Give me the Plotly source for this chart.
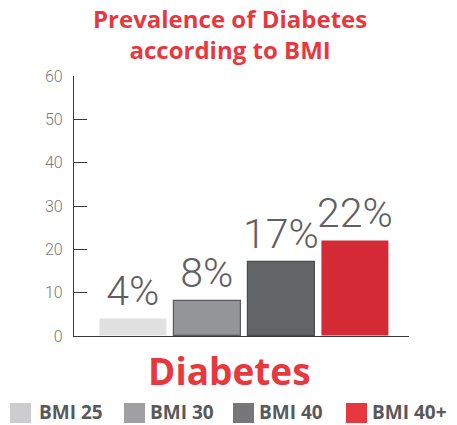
import plotly.graph_objects as go

categories = ["BMI 25", "BMI 30", "BMI 40", "BMI 40+"]
values = [4, 8, 17, 22]
bar_colors = ["#e1e1e2", "#939598", "#636466", "#d42a36"]
border_colors = ["rgba(0,0,0,0)", "#58595b", "#4a4b4d", "rgba(0,0,0,0)"]
legend_colors = ["#cdcdcf", "#a09fa1", "#77777a", "#e8383f"]
y_ticks = [0, 10, 20, 30, 40, 50, 60]
title_text = "Prevalence of Diabetes<br>according to BMI"
group_label = "Diabetes"

W, H = 457, 425
L, R, T, B = 74, 48, 76, 89
pw, ph = W - L - R, H - T - B
xr = [-0.80, 3.72]

fig = go.Figure()
fig.add_trace(go.Bar(
    x=list(range(len(categories))), y=values, width=0.905,
    marker=dict(color=bar_colors, line=dict(color=border_colors, width=1.2)),
    text=[f"{v}%" for v in values], textposition="outside",
    textfont=dict(family="Roboto", size=41, color="#5f6062", weight=300),
    constraintext="none", cliponaxis=False, showlegend=False,
))

def px2paper_x(px):
    return (px - L) / pw

def px2paper_y(py):
    return (H - B - py) / ph

shapes = []
annotations = []
sq_left = [10, 124, 233, 346]
txt_left = [40, 151, 260, 373]
for i, name in enumerate(categories):
    shapes.append(dict(type="rect", xref="paper", yref="paper",
                       x0=px2paper_x(sq_left[i]), x1=px2paper_x(sq_left[i] + 21),
                       y0=px2paper_y(423), y1=px2paper_y(403),
                       fillcolor=legend_colors[i], line=dict(width=0)))
    annotations.append(dict(text=f"<b>{name}</b>", xref="paper", yref="paper",
                            x=px2paper_x(txt_left[i] - 2), y=px2paper_y(411.5),
                            xanchor="left", yanchor="middle", showarrow=False, borderpad=0,
                            font=dict(family="Open Sans", size=19, color="#58595b")))

annotations.append(dict(text=f"<b>{group_label}</b>", xref="paper", yref="paper",
                        x=px2paper_x(229), y=px2paper_y(370), xanchor="center", yanchor="middle",
                        showarrow=False,
                        font=dict(family="Open Sans", size=37, color="#e8383f")))

annotations.append(dict(text=f"<b>{title_text}</b>", xref="paper", yref="paper",
                        x=px2paper_x(230), y=px2paper_y(34), xanchor="center", yanchor="middle",
                        showarrow=False,
                        font=dict(family="Open Sans", size=24, color="#e8383f")))

fig.update_layout(
    width=W, height=H, margin=dict(l=L, r=R, t=T, b=B),
    paper_bgcolor="white", plot_bgcolor="white",
    xaxis=dict(range=xr, showgrid=False, zeroline=False, showline=True,
               linecolor="#3a3a3a", linewidth=1.3, tickvals=[xr[1]], ticktext=[""],
               ticks="inside", ticklen=6, tickcolor="#3a3a3a", tickwidth=1.3),
    yaxis=dict(range=[0, 60], tickvals=y_ticks, showgrid=False, zeroline=False,
               showline=True, linecolor="#3a3a3a", linewidth=1.3,
               ticks="inside", ticklen=13, tickcolor="#3a3a3a", tickwidth=1.3,
               ticklabelstandoff=7,
               tickfont=dict(family="Roboto", size=16, color="#7a7a7a", weight=300)),
    shapes=shapes, annotations=annotations, bargap=0,
)

fig.write_html("out.html")
